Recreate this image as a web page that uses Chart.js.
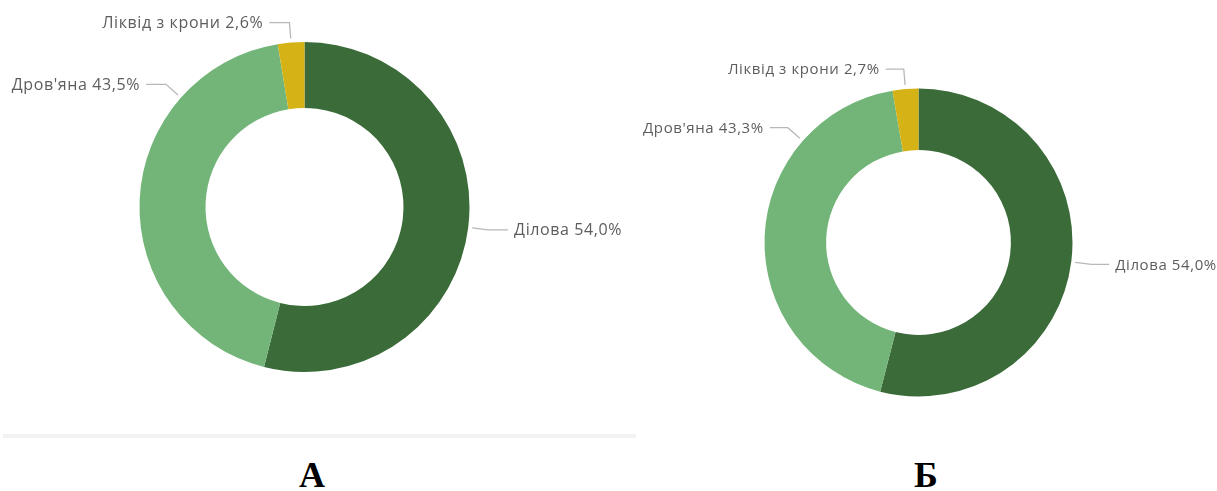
<!DOCTYPE html>
<html>
<head>
<meta charset="utf-8">
<script src="https://cdn.jsdelivr.net/npm/chart.js@4/dist/chart.umd.min.js"></script>
<style>
  body { margin: 0; background: #fff; width: 1217px; height: 491px; position: relative; overflow: hidden; }
  canvas { position: absolute; }
  .rule { position: absolute; left: 3px; top: 434px; width: 633px; height: 4px; background: #f2f2f2; }
  .tag { position: absolute; font: bold 36px "Liberation Serif", "Times New Roman", serif; color: #000; line-height: 1; }
</style>
</head>
<body>
<canvas id="chartB" width="597" height="430" style="left:620px;top:0"></canvas>
<canvas id="chartA" width="650" height="430" style="left:0;top:0"></canvas>
<div class="rule"></div>
<div class="tag" id="tagA" style="left:299px;top:457px">А</div>
<div class="tag" id="tagB" style="left:914px;top:457px">Б</div>
<script>
// data
const categories = ["Ділова", "Дров'яна", "Ліквід з крони"];
const sharesA = [54.0, 43.5, 2.6];
const sharesB = [54.0, 43.3, 2.7];
const sliceColors = ["#3a6b39", "#73b578", "#d5b316"];
// where along each slice the leader line starts (0..1)
const anchorAt = [0.5, 0.75, 0.5];

const fmt = (v) => v.toFixed(1).replace(".", ",") + "%";

const leaderLabels = {
  id: "leaderLabels",
  afterDatasetsDraw(chart, args, opts) {
    const ctx = chart.ctx;
    const meta = chart.getDatasetMeta(0);
    const values = chart.data.datasets[0].data;
    ctx.save();
    ctx.font = opts.font;
    ctx.letterSpacing = opts.spacing;
    ctx.textBaseline = "middle";
    meta.data.forEach((arc, i) => {
      const p = arc.getProps(["x", "y", "startAngle", "endAngle", "outerRadius"], true);
      const a = p.startAngle + (p.endAngle - p.startAngle) * anchorAt[i];
      const r = p.outerRadius;
      const ax = p.x + Math.cos(a) * (r + 4);
      const ay = p.y + Math.sin(a) * (r + 4);
      const bx = p.x + Math.cos(a) * (r + 20);
      const by = p.y + Math.sin(a) * (r + 20);
      const dir = Math.cos(a) >= 0 ? 1 : -1;
      const cx = bx + dir * opts.leg;
      ctx.strokeStyle = "#b8b8b8";
      ctx.lineWidth = 1.3;
      ctx.beginPath();
      ctx.moveTo(ax, ay);
      ctx.lineTo(bx, by);
      ctx.lineTo(cx, by);
      ctx.stroke();
      ctx.fillStyle = "#5f5d5b";
      ctx.textAlign = dir > 0 ? "left" : "right";
      ctx.fillText(chart.data.labels[i] + " " + fmt(values[i]), cx + dir * 6, by + 1);
    });
    ctx.restore();
  },
};

function makeDonut(id, values, pad, labelOpts) {
  return new Chart(document.getElementById(id), {
    type: "doughnut",
    data: {
      labels: categories,
      datasets: [{
        data: values,
        backgroundColor: sliceColors,
        borderWidth: 0,
      }],
    },
    options: {
      responsive: false,
      animation: false,
      cutout: "60%",
      layout: { padding: pad },
      plugins: {
        legend: { display: false },
        tooltip: { enabled: false },
        leaderLabels: labelOpts,
      },
    },
    plugins: [leaderLabels],
  });
}

// left donut: centre (304.5, 207), radius 165
makeDonut("chartA", sharesA,
  { left: 139.5, top: 42, right: 650 - 469.5, bottom: 430 - 372 },
  { font: '16px "Open Sans", sans-serif', spacing: "0.6px", leg: 20 });
// right donut: centre (918.5, 242.5), radius 154
makeDonut("chartB", sharesB,
  { left: 764.5 - 620, top: 88.5, right: 1217 - 1072.5, bottom: 430 - 396.5 },
  { font: '15px "Open Sans", sans-serif', spacing: "0.6px", leg: 18 });
</script>
</body>
</html>
